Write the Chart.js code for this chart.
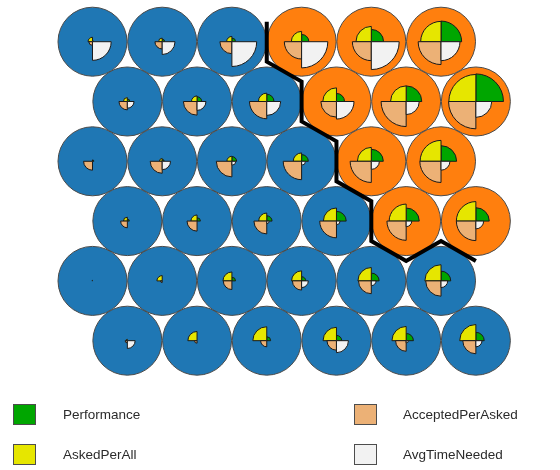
<!DOCTYPE html>
<html>
<head>
<meta charset="utf-8">
<script src="https://cdn.jsdelivr.net/npm/chart.js@4/dist/chart.umd.min.js"></script>
<style>
  html, body { margin: 0; padding: 0; background: #ffffff; }
  #wrap { width: 560px; height: 470px; }
</style>
</head>
<body>
<div id="wrap"><canvas id="som" width="560" height="470"></canvas></div>
<script>
// SOM codebook vectors (6 x 6 hexagonal grid), each variable scaled to 0..1.
// Rows are listed from the top row of the map to the bottom row.
const variables = ['Performance', 'AskedPerAll', 'AcceptedPerAsked', 'AvgTimeNeeded'];
const segmentColors = ['#00A600', '#E6E600', '#ECB176', '#F2F2F2'];
const clusterColors = ['#1F77B4', '#FF7F0E'];

const performance = [
  [0.04, 0.09, 0.13, 0.26, 0.44, 0.74],
  [0.09, 0.17, 0.26, 0.29, 0.56, 0.99],
  [0.05, 0.07, 0.17, 0.24, 0.43, 0.56],
  [0.07, 0.12, 0.19, 0.35, 0.47, 0.48],
  [0.00, 0.00, 0.13, 0.15, 0.28, 0.35],
  [0.00, 0.00, 0.14, 0.19, 0.26, 0.30]
];
const askedPerAll = [
  [0.16, 0.13, 0.19, 0.37, 0.55, 0.73],
  [0.14, 0.20, 0.30, 0.49, 0.56, 0.97],
  [0.00, 0.10, 0.18, 0.30, 0.50, 0.75],
  [0.14, 0.22, 0.29, 0.47, 0.61, 0.70],
  [0.02, 0.19, 0.32, 0.36, 0.48, 0.58],
  [0.05, 0.33, 0.50, 0.48, 0.51, 0.58]
];
const acceptedPerAsked = [
  [0.13, 0.26, 0.43, 0.62, 0.68, 0.82],
  [0.30, 0.49, 0.62, 0.56, 0.90, 0.98],
  [0.32, 0.43, 0.56, 0.66, 0.76, 0.76],
  [0.24, 0.36, 0.46, 0.60, 0.69, 0.70],
  [0.00, 0.06, 0.31, 0.33, 0.46, 0.55],
  [0.08, 0.09, 0.22, 0.34, 0.38, 0.47]
];
const avgTimeNeeded = [
  [0.67, 0.46, 0.89, 0.94, 1.00, 0.68],
  [0.24, 0.32, 0.50, 0.63, 0.47, 0.57],
  [0.00, 0.30, 0.14, 0.14, 0.29, 0.32],
  [0.00, 0.00, 0.09, 0.13, 0.20, 0.28],
  [0.00, 0.00, 0.00, 0.24, 0.17, 0.24],
  [0.28, 0.00, 0.00, 0.43, 0.08, 0.22]
];
// cluster membership of each unit (0 = blue, 1 = orange)
const clusters = [
  [0, 0, 0, 1, 1, 1],
  [0, 0, 0, 1, 1, 1],
  [0, 0, 0, 0, 1, 1],
  [0, 0, 0, 0, 1, 1],
  [0, 0, 0, 0, 0, 0],
  [0, 0, 0, 0, 0, 0]
];

const codeTables = [performance, askedPerAll, acceptedPerAsked, avgTimeNeeded];
const ROW_STEP = Math.sqrt(3) / 2;

// unit positions on the hexagonal grid (odd rows shifted half a unit)
const units = [];
clusters.forEach((row, r) => {
  row.forEach((cl, c) => {
    units.push({
      x: c + (r % 2 ? 0.5 : 0),
      y: r * ROW_STEP,
      cluster: cl,
      codes: codeTables.map(t => t[r][c])
    });
  });
});

// hexagon edges shared by neighbouring units of different clusters
function boundaryEdges() {
  const edges = [];
  const half = 1 / (2 * Math.sqrt(3));
  for (let i = 0; i < units.length; i++) {
    for (let j = i + 1; j < units.length; j++) {
      const a = units[i], b = units[j];
      const dx = b.x - a.x, dy = b.y - a.y;
      const d = Math.hypot(dx, dy);
      if (Math.abs(d - 1) > 1e-3 || a.cluster === b.cluster) continue;
      const mx = (a.x + b.x) / 2, my = (a.y + b.y) / 2;
      const px = -dy / d * half, py = dx / d * half;
      edges.push([{ x: mx - px, y: my - py }, { x: mx + px, y: my + py }]);
    }
  }
  return edges;
}

// join edges into continuous polylines (NaN separates pieces)
function chainEdges(edges) {
  const key = p => p.x.toFixed(4) + ',' + p.y.toFixed(4);
  const deg = {};
  edges.forEach(e => e.forEach(p => { deg[key(p)] = (deg[key(p)] || 0) + 1; }));
  const used = edges.map(() => false);
  const pts = [];
  while (used.includes(false)) {
    let s = edges.findIndex((e, i) => !used[i] && (deg[key(e[0])] === 1 || deg[key(e[1])] === 1));
    if (s < 0) s = used.indexOf(false);
    used[s] = true;
    const e0 = edges[s];
    const path = deg[key(e0[0])] === 1 ? [e0[0], e0[1]] : [e0[1], e0[0]];
    let grown = true;
    while (grown) {
      grown = false;
      const end = key(path[path.length - 1]);
      for (let i = 0; i < edges.length; i++) {
        if (used[i]) continue;
        if (key(edges[i][0]) === end) { path.push(edges[i][1]); used[i] = true; grown = true; break; }
        if (key(edges[i][1]) === end) { path.push(edges[i][0]); used[i] = true; grown = true; break; }
      }
    }
    if (pts.length) pts.push({ x: NaN, y: NaN });
    pts.push(...path);
  }
  return pts;
}

function unitPx(chart) {
  const s = chart.scales.x;
  return Math.abs(s.getPixelForValue(1) - s.getPixelForValue(0));
}

// fan (segment) diagrams of the codebook vectors
const segmentPlugin = {
  id: 'segments',
  afterDatasetsDraw(chart) {
    const { ctx, scales: { x, y } } = chart;
    const u = unitPx(chart);
    ctx.save();
    ctx.lineWidth = 1;
    ctx.strokeStyle = '#1a1a1a';
    ctx.lineJoin = 'miter';
    units.forEach(unit => {
      const cx = x.getPixelForValue(unit.x);
      const cy = y.getPixelForValue(unit.y);
      unit.codes.forEach((v, k) => {
        const r = v * 0.4 * u;
        if (r < 0.4) return;
        ctx.beginPath();
        ctx.moveTo(cx, cy);
        ctx.arc(cx, cy, r, -(k + 1) * Math.PI / 2, -k * Math.PI / 2);
        ctx.closePath();
        ctx.fillStyle = segmentColors[k];
        ctx.fill();
        ctx.stroke();
      });
    });
    ctx.restore();
  }
};

// two-column key below the map
const keyPlugin = {
  id: 'segmentKey',
  afterDraw(chart) {
    const { ctx } = chart;
    const order = [0, 2, 1, 3];
    const colX = [13, 354];
    const textX = [63, 403];
    const rowY = [414, 454];
    ctx.save();
    ctx.font = '13.5px "Liberation Sans", Arial, sans-serif';
    ctx.textBaseline = 'middle';
    ctx.textAlign = 'left';
    order.forEach((k, i) => {
      const col = i % 2, row = Math.floor(i / 2);
      ctx.fillStyle = segmentColors[k];
      ctx.fillRect(colX[col] + 0.5, rowY[row] - 9.5, 22, 20);
      ctx.strokeStyle = '#4d4d4d';
      ctx.lineWidth = 1;
      ctx.strokeRect(colX[col] + 0.5, rowY[row] - 9.5, 22, 20);
      ctx.fillStyle = '#2b2b2b';
      ctx.fillText(variables[k], textX[col], rowY[row] + 1);
    });
    ctx.restore();
  }
};

const boundary = chainEdges(boundaryEdges());

new Chart(document.getElementById('som'), {
  type: 'scatter',
  data: {
    datasets: [
      {
        label: 'boundary',
        data: boundary,
        showLine: true,
        spanGaps: false,
        borderColor: '#000000',
        borderWidth: 4,
        borderJoinStyle: 'miter',
        borderCapStyle: 'butt',
        tension: 0,
        pointRadius: 0,
        pointHoverRadius: 0,
        clip: false
      },
      {
        label: 'units',
        data: units.map(u => ({ x: u.x, y: u.y })),
        pointRadius: ctx => unitPx(ctx.chart) * 0.495,
        pointHoverRadius: ctx => unitPx(ctx.chart) * 0.495,
        pointBackgroundColor: units.map(u => clusterColors[u.cluster]),
        pointBorderColor: '#4a4a4a',
        pointBorderWidth: 1,
        pointHoverBorderWidth: 1,
        clip: false
      }
    ]
  },
  options: {
    responsive: false,
    maintainAspectRatio: false,
    animation: false,
    events: [],
    layout: { padding: 0 },
    plugins: { legend: { display: false }, tooltip: { enabled: false } },
    scales: {
      x: { type: 'linear', min: -1.327, max: 6.707, display: false },
      y: { type: 'linear', reverse: true, min: -0.604, max: 6.203, display: false }
    }
  },
  plugins: [segmentPlugin, keyPlugin]
});
</script>
</body>
</html>
